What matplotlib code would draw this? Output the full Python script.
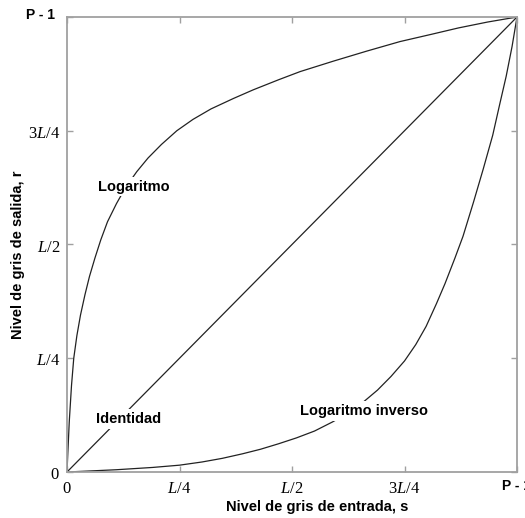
import matplotlib
matplotlib.use("Agg")
import matplotlib.pyplot as plt

plt.rcParams['mathtext.fontset'] = 'custom'
plt.rcParams['mathtext.rm'] = 'Liberation Serif'
plt.rcParams['mathtext.it'] = 'Liberation Serif:italic'

# Values (normalised 0..1 on both axes)
s_log = [0, 0.002, 0.005, 0.010, 0.015, 0.022, 0.030, 0.040, 0.050, 0.062,
         0.075, 0.090, 0.110, 0.130, 0.155, 0.180, 0.210, 0.244, 0.280, 0.320,
         0.370, 0.414, 0.470, 0.518, 0.592, 0.666, 0.740, 0.810, 0.870, 0.935, 1.0]
r_log = [0, 0.045, 0.110, 0.190, 0.250, 0.300, 0.345, 0.390, 0.430, 0.470,
         0.510, 0.550, 0.590, 0.625, 0.660, 0.690, 0.720, 0.750, 0.775, 0.798,
         0.821, 0.840, 0.862, 0.880, 0.903, 0.925, 0.946, 0.962, 0.976, 0.989, 1.0]

s_inv = [0, 0.045, 0.110, 0.190, 0.250, 0.300, 0.345, 0.390, 0.430, 0.470,
         0.510, 0.550, 0.590, 0.625, 0.660, 0.690, 0.720, 0.750, 0.775, 0.798,
         0.821, 0.840, 0.862, 0.880, 0.903, 0.925, 0.946, 0.962, 0.976, 0.989, 1.0]
r_inv = [0, 0.002, 0.005, 0.010, 0.015, 0.022, 0.030, 0.040, 0.050, 0.062,
         0.075, 0.090, 0.110, 0.130, 0.155, 0.180, 0.210, 0.244, 0.280, 0.320,
         0.370, 0.414, 0.470, 0.518, 0.592, 0.666, 0.740, 0.810, 0.870, 0.935, 1.0]

s_id = [0, 1]
r_id = [0, 1]

tick_pos = [0, 0.25, 0.5, 0.75]
tick_lab = ['$0$', '$L/4$', '$L/2$', '$3L/4$']

fig = plt.figure(figsize=(5.25, 5.18), dpi=100)
ax = fig.add_axes([67/525, 46/518, 450/525, 455/518])

line_kw = dict(color='#222222', lw=0.9)
ax.plot(s_log, r_log, **line_kw)
ax.plot(s_id, r_id, **line_kw)
ax.plot(s_inv, r_inv, **line_kw)

ax.set_xlim(0, 1)
ax.set_ylim(0, 1)

for sp in ax.spines.values():
    sp.set_color('#a0a0a0')
    sp.set_linewidth(1.3)

ax.set_xticks(tick_pos + [1])
ax.set_xticklabels(tick_lab + ['P - 1'])
ax.set_yticks(tick_pos + [1])
ax.set_yticklabels(tick_lab + [''])
ax.tick_params(direction='in', length=4, width=1, color='#a0a0a0',
               top=True, right=True, labelsize=12, pad=5)
ax.get_xticklabels()[-1].set_fontfamily('Liberation Sans')
ax.get_xticklabels()[-1].set_fontweight('bold')
ax.get_xticklabels()[-1].set_fontsize(10)

sans = dict(family='Liberation Sans', fontweight='bold')
fig.text(40/525, 1 - 15/518, 'P - 1', ha='center', va='center', fontsize=10, **sans)

box = dict(facecolor='white', edgecolor='none', pad=2)
ax.text(0.148, 0.627, 'Logaritmo', ha='center', va='center', fontsize=10.5, bbox=box, **sans)
ax.text(0.136, 0.116, 'Identidad', ha='center', va='center', fontsize=10.5, bbox=box, **sans)
ax.text(0.661, 0.134, 'Logaritmo inverso', ha='center', va='center', fontsize=10.5, bbox=box, **sans)

fig.text(317/525, 1 - 507/518, 'Nivel de gris de entrada, s', ha='center', va='center',
         fontsize=10.5, **sans)
fig.text(18/525, 1 - 255/518, 'Nivel de gris de salida, r', ha='center', va='center',
         rotation=90, fontsize=10.5, **sans)

fig.savefig('out.png', dpi=100, facecolor='white')
